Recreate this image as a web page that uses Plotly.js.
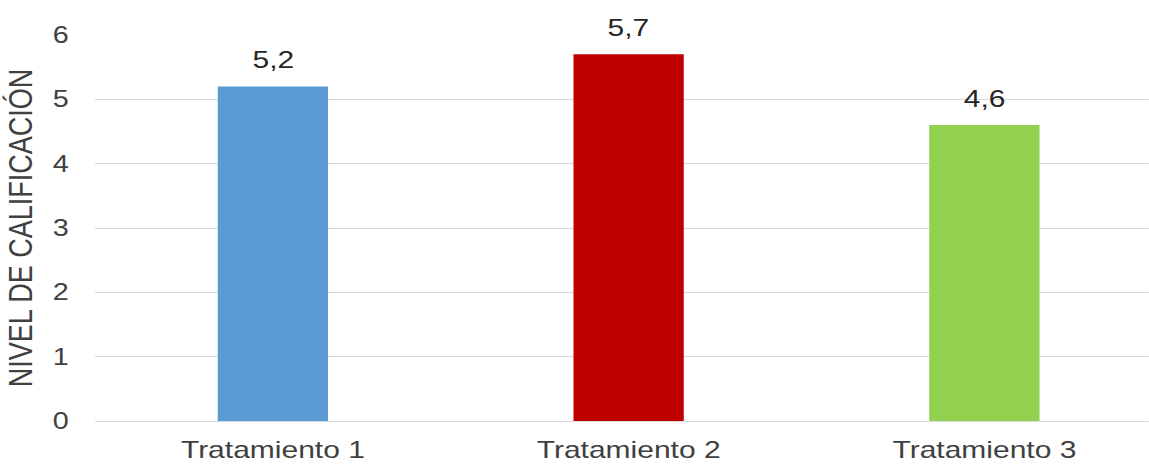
<!DOCTYPE html>
<html>
<head>
<meta charset="utf-8">
<script src="https://cdn.plot.ly/plotly-3.0.1.min.js"></script>
<style>
  html, body { margin: 0; padding: 0; overflow: hidden; background: #fff; }
  #wrap { width: 1149px; height: 464px; overflow: hidden; }
  #chart { width: 919px; height: 464px; transform: scaleX(1.25); transform-origin: 0 0; }
</style>
</head>
<body>
<div id="wrap"><div id="chart"></div></div>
<script>
const categories = ["Tratamiento 1", "Tratamiento 2", "Tratamiento 3"];
const values = [5.2, 5.7, 4.6];
const barColors = ["#5B9BD5", "#C00000", "#92D050"];
const yTicks = [0, 1, 2, 3, 4, 5, 6];
const yTitle = "NIVEL DE CALIFICACIÓN";

const FONT = "'Liberation Sans', Arial, sans-serif";
const TEXT = "#404040";

const trace = {
  type: "bar",
  x: categories,
  y: values,
  width: 0.31,
  marker: { color: barColors, line: { width: 0 } },
  hoverinfo: "skip",
  showlegend: false
};

const annotations = categories.map((c, i) => ({
  x: c,
  y: values[i],
  xref: "x",
  yref: "y",
  text: values[i].toFixed(1).replace(".", ","),
  showarrow: false,
  yanchor: "bottom",
  yshift: 11,
  font: { family: FONT, size: 24, color: "#262626" }
}));

const layout = {
  width: 919,
  height: 464,
  margin: { l: 75.6, r: 0, t: 35, b: 43 },
  paper_bgcolor: "#ffffff",
  plot_bgcolor: "#ffffff",
  separators: ",.",
  font: { family: FONT, color: TEXT },
  xaxis: {
    type: "category",
    range: [-0.5, 2.462],
    showgrid: false,
    zeroline: false,
    showline: true,
    linecolor: "#D9D9D9",
    linewidth: 1,
    ticks: "",
    ticklabelstandoff: 7,
    tickfont: { family: FONT, size: 24, color: TEXT },
    fixedrange: true
  },
  yaxis: {
    range: [0, 6],
    tickvals: yTicks,
    ticktext: yTicks.map(String),
    showgrid: true,
    gridcolor: "#D9D9D9",
    gridwidth: 1,
    zeroline: false,
    showline: false,
    ticks: "",
    ticklabelstandoff: 20,
    tickfont: { family: FONT, size: 23, color: TEXT },
    title: { text: yTitle, standoff: 8, font: { family: FONT, size: 27, color: TEXT } },
    fixedrange: true
  },
  annotations: annotations,
  bargap: 0.69
};

Plotly.newPlot("chart", [trace], layout, { displayModeBar: false, staticPlot: true });
</script>
</body>
</html>
